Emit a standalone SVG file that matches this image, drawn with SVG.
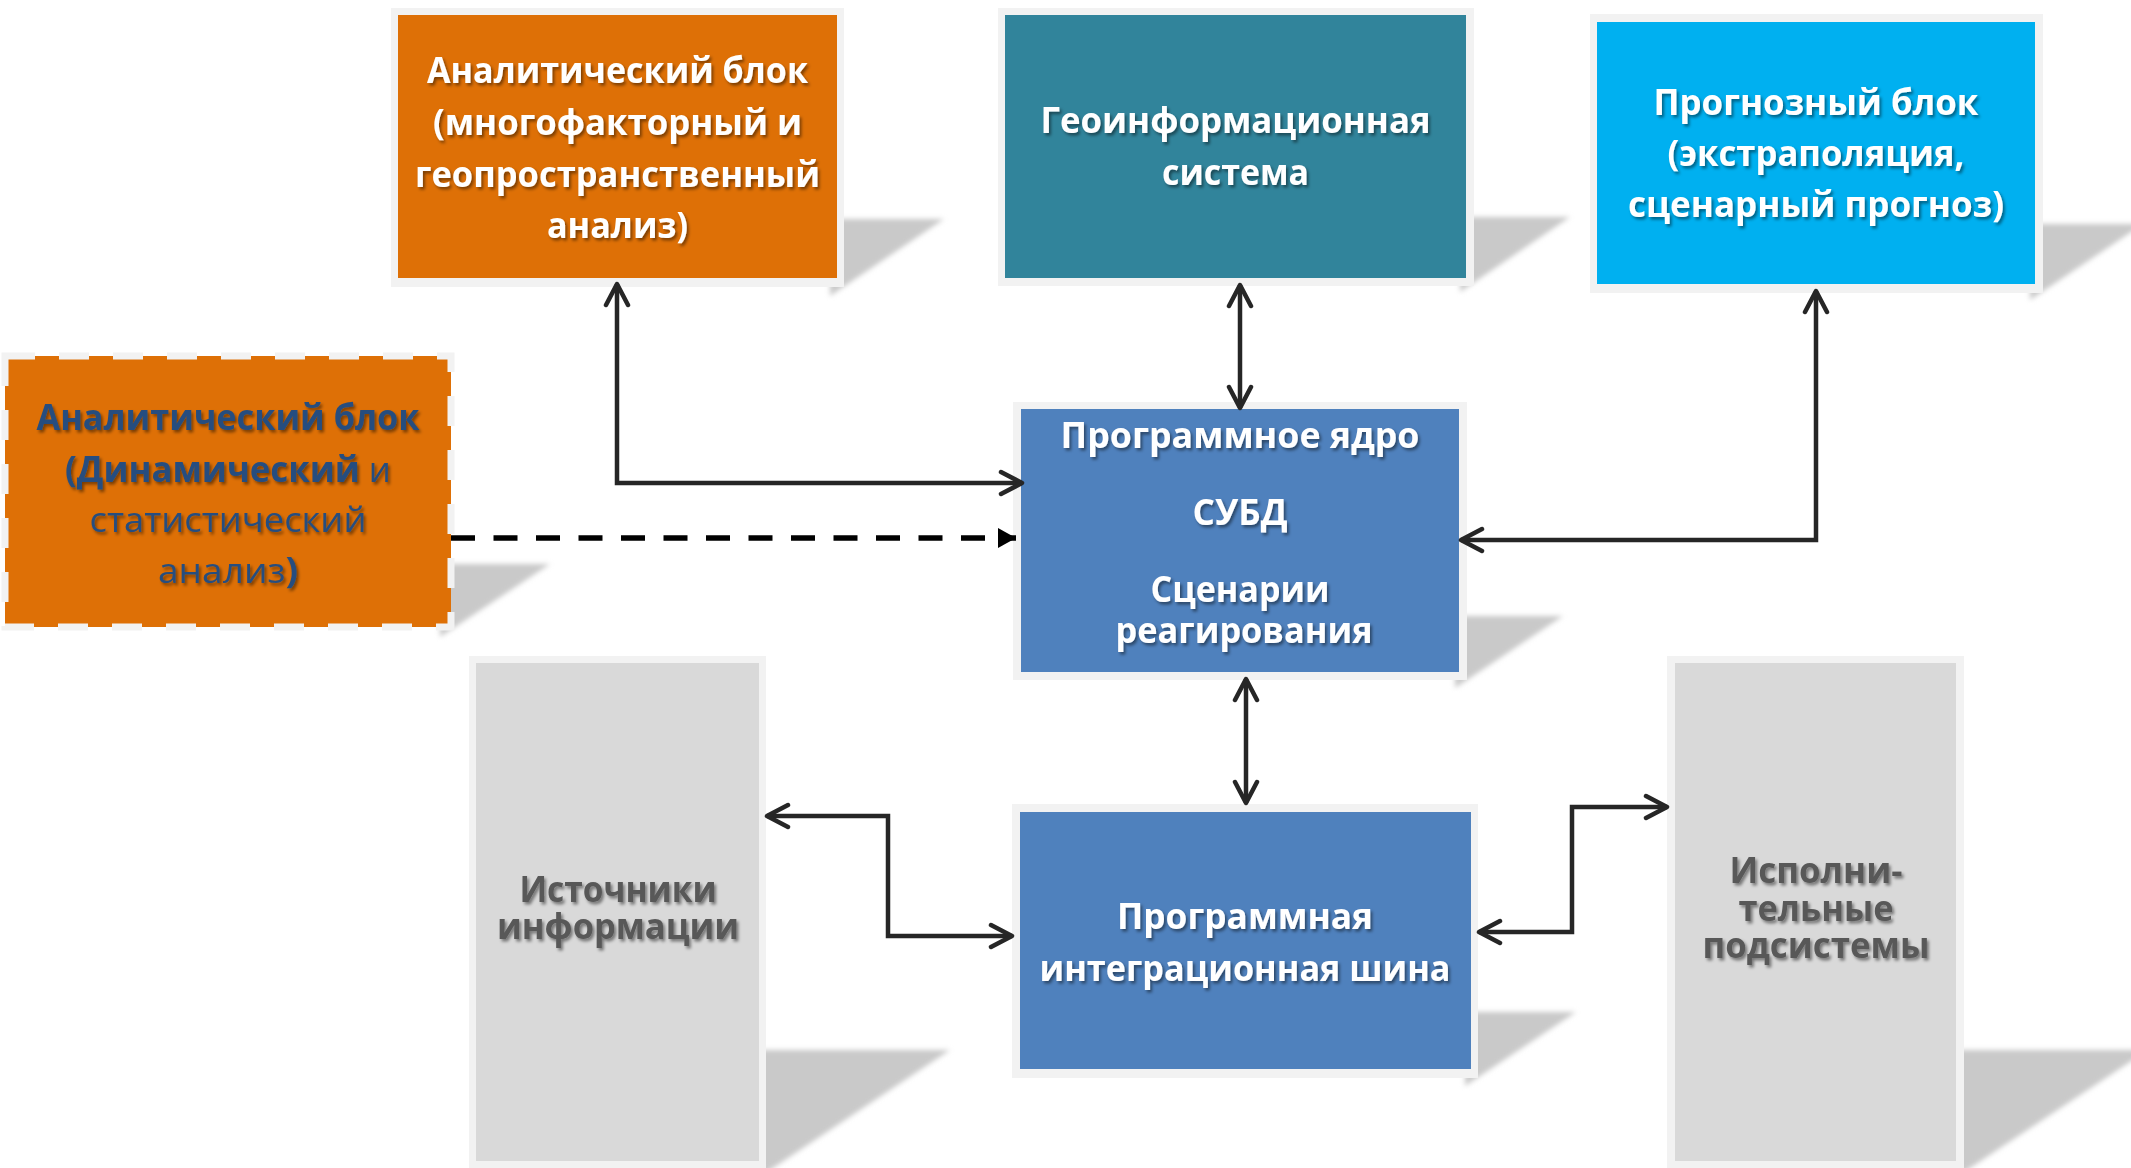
<svg xmlns="http://www.w3.org/2000/svg" width="2131" height="1168" viewBox="0 0 2131 1168">
<style>
.frame{fill:#f2f2f2}
.t{font-family:"Open Sans","Noto Sans","DejaVu Sans",sans-serif;font-size:35px;font-weight:700;text-anchor:middle;filter:url(#ts)}
.w{fill:#ffffff}
.g{fill:#595959}
.b{fill:#264e7f}
.n{font-weight:400}
.sh{fill:#c9c9c9;filter:url(#blur)}
.con{fill:none;stroke:#262626;stroke-width:4.5;stroke-linejoin:miter}
.dash{fill:none;stroke:#000;stroke-width:5.5;stroke-dasharray:24 18.5}
</style>
<defs>
<filter id="ts" x="-10%" y="-30%" width="120%" height="160%">
<feDropShadow dx="2" dy="2.5" stdDeviation="1.6" flood-color="#000" flood-opacity="0.45"/>
</filter>
<filter id="blur" x="-20%" y="-20%" width="140%" height="140%">
<feGaussianBlur stdDeviation="2.5"/>
</filter>
<marker id="ah" markerUnits="userSpaceOnUse" viewBox="-26 -14 30 28" refX="0" refY="0" markerWidth="30" markerHeight="28" orient="auto-start-reverse">
<path d="M-21,-11 L0,0 L-21,11" fill="none" stroke="#262626" stroke-width="4.5" stroke-linecap="round" stroke-linejoin="round"/>
</marker>
<marker id="tri" markerUnits="userSpaceOnUse" viewBox="-20 -12 22 24" refX="0" refY="0" markerWidth="22" markerHeight="24" orient="auto">
<path d="M-18,-10 L0,0 L-18,10 Z" fill="#000"/>
</marker>
</defs>
<rect width="2131" height="1168" fill="#ffffff"/>

<g id="shadows">
<polygon class="sh" points="830,219 944,219 830,296"/>
<polygon class="sh" points="1460,217 1570,217 1460,292"/>
<polygon class="sh" points="2030,224 2143,224 2030,300"/>
<polygon class="sh" points="440,564 550,564 440,637"/>
<polygon class="sh" points="1455,616 1563,616 1455,688"/>
<polygon class="sh" points="1465,1012 1576,1012 1465,1086"/>
<polygon class="sh" points="755,1050 950,1050 755,1180"/>
<polygon class="sh" points="1952,1050 2148,1050 1952,1180"/>
</g>

<g id="analytic-top">
<rect class="frame" x="391" y="8" width="453" height="279"/>
<rect x="398" y="15" width="439" height="263" fill="#de7006"/>
<text class="t w" x="617.5" y="83" textLength="381" lengthAdjust="spacingAndGlyphs">Аналитический блок</text>
<text class="t w" x="617.5" y="135" textLength="369" lengthAdjust="spacingAndGlyphs">(многофакторный и</text>
<text class="t w" x="617.5" y="187" textLength="405" lengthAdjust="spacingAndGlyphs">геопространственный</text>
<text class="t w" x="617.5" y="238" textLength="141" lengthAdjust="spacingAndGlyphs">анализ)</text>
</g>

<g id="gis">
<rect class="frame" x="998" y="8" width="476" height="278"/>
<rect x="1005" y="15" width="461" height="263" fill="#31849b"/>
<text class="t w" x="1235.5" y="133" textLength="390" lengthAdjust="spacingAndGlyphs">Геоинформационная</text>
<text class="t w" x="1235.5" y="185" textLength="147" lengthAdjust="spacingAndGlyphs">система</text>
</g>

<g id="forecast">
<rect class="frame" x="1590" y="14" width="453" height="279"/>
<rect x="1597" y="22" width="438" height="262" fill="#00b0f0"/>
<text class="t w" x="1816" y="115" textLength="325" lengthAdjust="spacingAndGlyphs">Прогнозный блок</text>
<text class="t w" x="1816" y="166" textLength="297" lengthAdjust="spacingAndGlyphs">(экстраполяция,</text>
<text class="t w" x="1816" y="217" textLength="376" lengthAdjust="spacingAndGlyphs">сценарный прогноз)</text>
</g>

<g id="analytic-dynamic">
<rect x="5" y="356" width="446" height="271" fill="#de7006" stroke="#f2f2f2" stroke-width="7" stroke-dasharray="30 24"/>
<text class="t b" x="228" y="430" textLength="383" lengthAdjust="spacingAndGlyphs">Аналитический блок</text>
<text class="t b" x="228" y="482" textLength="326" lengthAdjust="spacingAndGlyphs">(Динамический <tspan class="n">и</tspan></text>
<text class="t b n" x="228" y="532" textLength="277" lengthAdjust="spacingAndGlyphs">статистический</text>
<text class="t b" x="228" y="583" textLength="140" lengthAdjust="spacingAndGlyphs"><tspan class="n">анализ</tspan>)</text>
</g>

<g id="core">
<rect class="frame" x="1013" y="402" width="454" height="278"/>
<rect x="1021" y="409" width="438" height="263" fill="#4f81bd"/>
<text class="t w" x="1240" y="448" textLength="359" lengthAdjust="spacingAndGlyphs">Программное ядро</text>
<text class="t w" x="1240" y="525" textLength="95" lengthAdjust="spacingAndGlyphs">СУБД</text>
<text class="t w" x="1240" y="602" textLength="179" lengthAdjust="spacingAndGlyphs">Сценарии</text>
<text class="t w" x="1244" y="643" textLength="257" lengthAdjust="spacingAndGlyphs">реагирования</text>
</g>

<g id="sources">
<rect class="frame" x="469" y="656" width="297" height="515"/>
<rect x="476" y="663" width="283" height="498" fill="#d9d9d9"/>
<text class="t g" x="618" y="902" textLength="197" lengthAdjust="spacingAndGlyphs">Источники</text>
<text class="t g" x="618" y="939" textLength="242" lengthAdjust="spacingAndGlyphs">информации</text>
</g>

<g id="bus">
<rect class="frame" x="1012" y="804" width="466" height="274"/>
<rect x="1020" y="812" width="451" height="257" fill="#4f81bd"/>
<text class="t w" x="1245" y="929" textLength="256" lengthAdjust="spacingAndGlyphs">Программная</text>
<text class="t w" x="1245" y="981" textLength="411" lengthAdjust="spacingAndGlyphs">интеграционная шина</text>
</g>

<g id="executive">
<rect class="frame" x="1667" y="656" width="297" height="515"/>
<rect x="1675" y="663" width="281" height="498" fill="#d9d9d9"/>
<text class="t g" x="1816" y="883" textLength="173" lengthAdjust="spacingAndGlyphs">Исполни-</text>
<text class="t g" x="1816" y="921" textLength="155" lengthAdjust="spacingAndGlyphs">тельные</text>
<text class="t g" x="1816" y="958" textLength="227" lengthAdjust="spacingAndGlyphs">подсистемы</text>
</g>

<g id="connectors">
<path class="con" d="M617,284 L617,483 L1022,483" marker-start="url(#ah)" marker-end="url(#ah)"/>
<path class="dash" d="M451,538 L1016,538" marker-end="url(#tri)"/>
<path class="con" d="M1240,285 L1240,408" marker-start="url(#ah)" marker-end="url(#ah)"/>
<path class="con" d="M1816,291 L1816,540 L1461,540" marker-start="url(#ah)" marker-end="url(#ah)"/>
<path class="con" d="M1246,679 L1246,803" marker-start="url(#ah)" marker-end="url(#ah)"/>
<path class="con" d="M767,816 L888,816 L888,936 L1012,936" marker-start="url(#ah)" marker-end="url(#ah)"/>
<path class="con" d="M1479,932 L1572,932 L1572,807 L1667,807" marker-start="url(#ah)" marker-end="url(#ah)"/>
</g>
</svg>
